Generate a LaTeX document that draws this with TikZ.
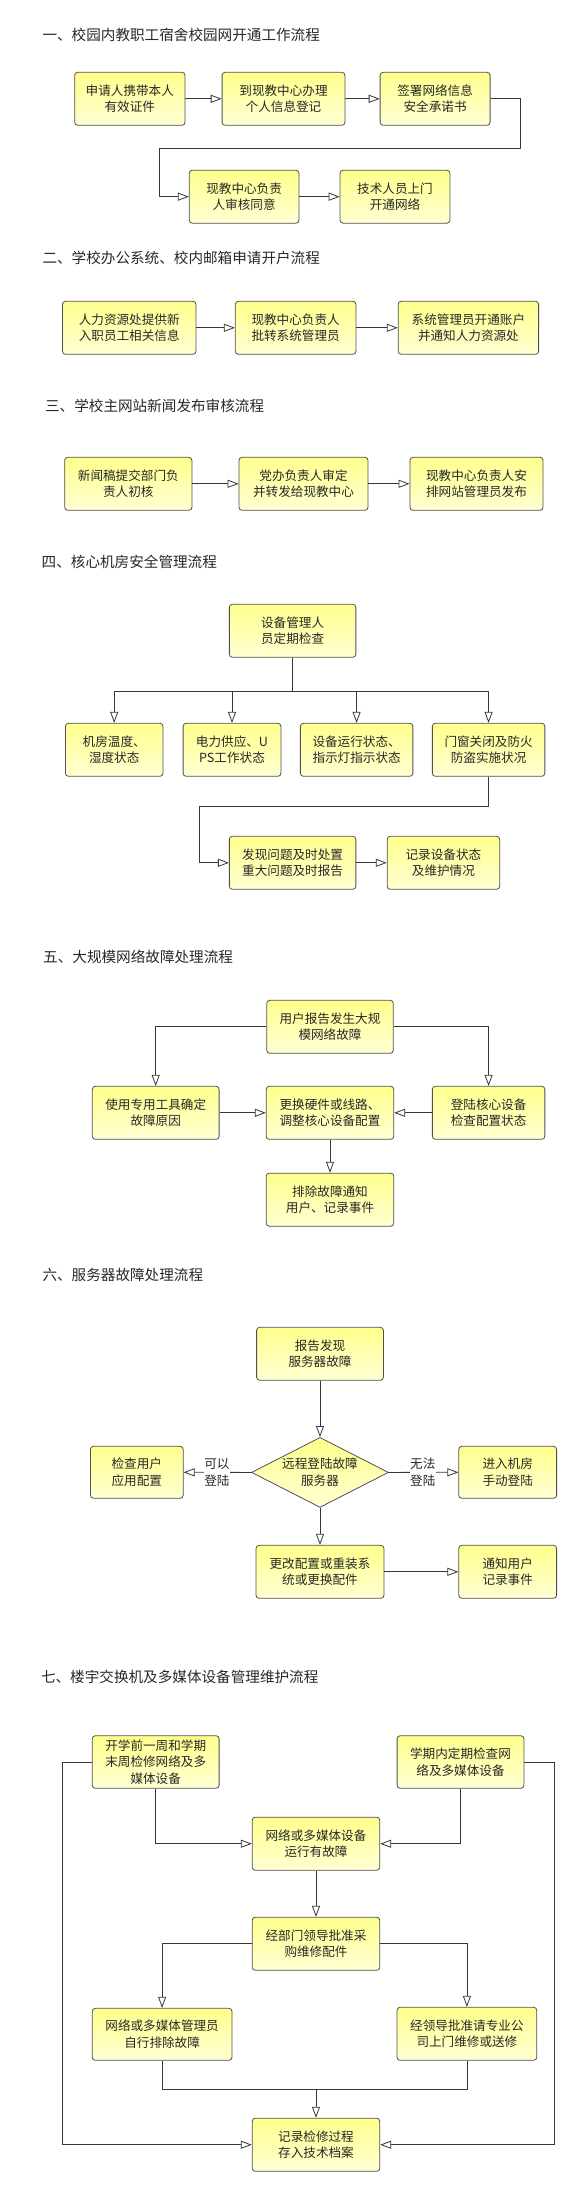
\documentclass[tikz,border=0pt]{standalone}
\usepackage{fontspec}
\newfontfamily\cjk{Noto Sans CJK SC}
\usetikzlibrary{arrows.meta,shapes.geometric}
\definecolor{boxtop}{RGB}{255,255,140}
\definecolor{boxbot}{RGB}{255,255,212}
\definecolor{bordercol}{RGB}{80,80,80}
\definecolor{linecol}{RGB}{55,55,55}
\definecolor{textcol}{RGB}{40,40,40}
\tikzset{
  box/.style={draw=bordercol, line width=0.8pt, rounded corners=3pt,
    top color=boxtop, bottom color=boxbot, align=center, text=textcol,
    font=\cjk\fontsize{12.6}{16.5}\selectfont, inner sep=1pt,
    minimum height=53pt},
  dia/.style={shape=diamond, draw=bordercol, line width=0.8pt,
    top color=boxtop, bottom color=boxbot, inner sep=0pt,
    minimum width=137pt, minimum height=70pt},
  ttl/.style={anchor=west, text=textcol, font=\cjk\fontsize{14.6}{17}\selectfont, inner sep=0pt},
  lbl/.style={fill=white, align=center, text=textcol, font=\cjk\fontsize{12.6}{16.5}\selectfont, inner xsep=0.5pt, inner ysep=1pt},
  arr/.style={draw=linecol, line width=0.8pt, -{Triangle[length=11pt,width=8pt,fill=white]}},
  ln/.style={draw=linecol, line width=0.8pt}
}
\begin{document}
\begin{tikzpicture}[x=1pt,y=-1pt]
\useasboundingbox (0,0) rectangle (577,2191);
% ---------- Section 1
\node[ttl] (t1) at (42.3,35) {一、校园内教职工宿舍校园网开通工作流程};
\node[box, minimum width=110.3pt] (a1) at (129.8,98.8) {申请人携带本人\\有效证件};
\node[box, minimum width=122.8pt] (a2) at (283.5,98.8) {到现教中心办理\\个人信息登记};
\node[box, minimum width=110pt] (a3) at (435.1,98.8) {签署网络信息\\安全承诺书};
\node[box, minimum width=109.6pt] (a4) at (244.1,196.7) {现教中心负责\\人审核同意};
\node[box, minimum width=109.9pt] (a5) at (395,196.7) {技术人员上门\\开通网络};
\coordinate (k1) at (519.9,148);
\coordinate (k2) at (159.2,148);
\draw[arr] (a1.east) -- (a2.west);
\draw[arr] (a2.east) -- (a3.west);
\draw[arr] (a3.east) -| (k1) -- (k2) |- (a4.west);
\draw[arr] (a4.east) -- (a5.west);
% ---------- Section 2
\node[ttl] (t2) at (42.3,258.3) {二、学校办公系统、校内邮箱申请开户流程};
\node[box, minimum width=133.5pt] (b1) at (129.2,327.8) {人力资源处提供新\\入职员工相关信息};
\node[box, minimum width=120.6pt] (b2) at (295.6,327.8) {现教中心负责人\\批转系统管理员};
\node[box, minimum width=140.4pt] (b3) at (468.4,327.8) {系统管理员开通账户\\并通知人力资源处};
\draw[arr] (b1.east) -- (b2.west);
\draw[arr] (b2.east) -- (b3.west);
% ---------- Section 3
\node[ttl] (t3) at (44.9,406) {三、学校主网站新闻发布审核流程};
\node[box, minimum width=127.2pt] (c1) at (128.3,483.8) {新闻稿提交部门负\\责人初核};
\node[box, minimum width=129pt] (c2) at (303.5,483.8) {党办负责人审定\\并转发给现教中心};
\node[box, minimum width=133.1pt] (c3) at (476.5,483.8) {现教中心负责人安\\排网站管理员发布};
\draw[arr] (c1.east) -- (c2.west);
\draw[arr] (c2.east) -- (c3.west);
% ---------- Section 4
\node[ttl] (t4) at (41.5,561.7) {四、核心机房安全管理流程};
\node[box, minimum width=126.5pt] (d0) at (292.6,630.8) {设备管理人\\员定期检查};
\node[box, minimum width=97.5pt] (d1) at (114.2,749.8) {机房温度、\\湿度状态};
\node[box, minimum width=97.8pt] (d2) at (232,749.8) {电力供应、U\\PS工作状态};
\node[box, minimum width=112.5pt] (d3) at (356.6,749.8) {设备运行状态、\\指示灯指示状态};
\node[box, minimum width=112.5pt] (d4) at (488.6,749.8) {门窗关闭及防火\\防盗实施状况};
\node[box, minimum width=126.5pt] (d5) at (292.6,862.8) {发现问题及时处置\\重大问题及时报告};
\node[box, minimum width=112.5pt] (d6) at (443.4,862.8) {记录设备状态\\及维护情况};
\coordinate (d0b) at (292.6,691);
\coordinate (k3) at (199.3,806.3);
\draw[ln] (d0.south) -- (d0b);
\draw[arr] (d0b) -| (d1.north);
\draw[arr] (d0b) -| (d2.north);
\draw[arr] (d0b) -| (d3.north);
\draw[arr] (d0b) -| (d4.north);
\draw[arr] (d4.south) |- (k3) |- (d5.west);
\draw[arr] (d5.east) -- (d6.west);
% ---------- Section 5
\node[ttl] (t5) at (43,957.3) {五、大规模网络故障处理流程};
\node[box, minimum width=126.5pt] (e0) at (330,1026.8) {用户报告发生大规\\模网络故障};
\node[box, minimum width=126.8pt] (e1) at (155.7,1112.8) {使用专用工具确定\\故障原因};
\node[box, minimum width=127.6pt] (e2) at (330,1112.8) {更换硬件或线路、\\调整核心设备配置};
\node[box, minimum width=112.5pt] (e3) at (488.6,1112.8) {登陆核心设备\\检查配置状态};
\node[box, minimum width=127.6pt] (e4) at (330,1199.7) {排除故障通知\\用户、记录事件};
\draw[arr] (e0.west) -| (e1.north);
\draw[arr] (e0.east) -| (e3.north);
\draw[arr] (e1.east) -- (e2.west);
\draw[arr] (e3.west) -- (e2.east);
\draw[arr] (e2.south) -- (e4.north);
% ---------- Section 6
\node[ttl] (t6) at (42.3,1275) {六、服务器故障处理流程};
\node[dia, label={[align=center, text=textcol, font=\cjk\fontsize{12.6}{16.5}\selectfont]center:远程登陆故障\\服务器}] (f1) at (320,1472.4) {};
\node[box, minimum width=126.8pt] (f0) at (320,1353.8) {报告发现\\服务器故障};
\node[box, minimum width=92.7pt, minimum height=52pt] (f2) at (136.8,1472.3) {检查用户\\应用配置};
\node[box, minimum width=97.8pt, minimum height=52pt] (f3) at (507.7,1472.3) {进入机房\\手动登陆};
\node[box, minimum width=127.9pt] (f4) at (320,1571.8) {更改配置或重装系\\统或更换配件};
\node[box, minimum width=97.8pt] (f5) at (507.7,1571.8) {通知用户\\记录事件};
\draw[arr] (f0.south) -- (f1.north);
\draw[arr] (f1.west) -- (f2.east);
\draw[arr] (f1.east) -- (f3.west);
\draw[arr] (f1.south) -- (f4.north);
\draw[arr] (f4.east) -- (f5.west);
\node[lbl] (l1) at (216.9,1472.3) {可以\\登陆};
\node[lbl] (l2) at (422.8,1472.3) {无法\\登陆};
% ---------- Section 7
\node[ttl] (t7) at (40.8,1676.7) {七、楼宇交换机及多媒体设备管理维护流程};
\node[box, minimum width=126.8pt, minimum height=52.6pt] (g1) at (155.7,1762) {开学前一周和学期\\末周检修网络及多\\媒体设备};
\node[box, minimum width=126.8pt, minimum height=52.6pt] (g2) at (460.5,1762) {学期内定期检查网\\络及多媒体设备};
\node[box, minimum width=127.6pt] (g3) at (316,1843.7) {网络或多媒体设备\\运行有故障};
\node[box, minimum width=127.6pt] (g4) at (316,1943.8) {经部门领导批准采\\购维修配件};
\node[box, minimum width=139.7pt, minimum height=52pt] (g5) at (162.1,2034.3) {网络或多媒体管理员\\自行排除故障};
\node[box, minimum width=139.7pt] (g6) at (466.9,2033.8) {经领导批准请专业公\\司上门维修或送修};
\node[box, minimum width=127.6pt] (g7) at (316,2144.7) {记录检修过程\\存入技术档案};
\coordinate (ol) at (62.5,1762);
\coordinate (orr) at (554.4,1762);
\coordinate (m) at (316,2089.3);
\draw[arr] (g1.south) |- (g3.west);
\draw[arr] (g2.south) |- (g3.east);
\draw[arr] (g3.south) -- (g4.north);
\draw[arr] (g4.west) -| (g5.north);
\draw[arr] (g4.east) -| (g6.north);
\draw[ln] (g5.south) |- (m) -| (g6.south);
\draw[arr] (m) -- (g7.north);
\draw[arr] (g1.west) -- (ol) |- (g7.west);
\draw[arr] (g2.east) -- (orr) |- (g7.east);
\end{tikzpicture}
\end{document}
